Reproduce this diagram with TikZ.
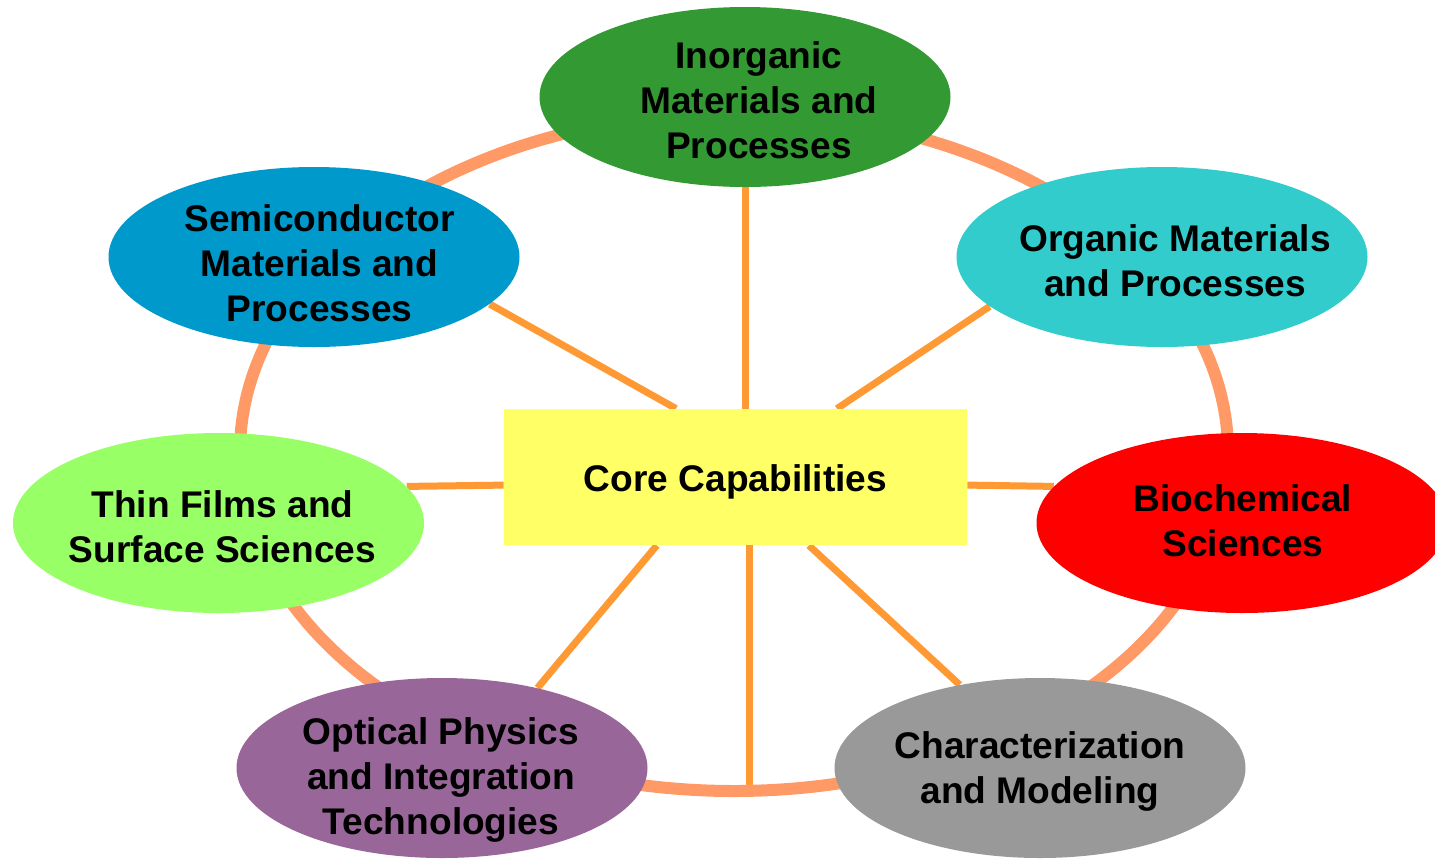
\documentclass[tikz,border=0pt]{standalone}
\usepackage{fontspec}
\setmainfont{Liberation Sans}
\usetikzlibrary{shapes.geometric,backgrounds}
\definecolor{ringorange}{HTML}{FF9966}
\definecolor{spokeorange}{HTML}{FF9933}
\definecolor{coreyellow}{HTML}{FFFF66}
\definecolor{inorggreen}{HTML}{339933}
\definecolor{semiblue}{HTML}{0099CC}
\definecolor{orgcyan}{HTML}{33CCCC}
\definecolor{thingreen}{HTML}{99FF66}
\definecolor{optpurple}{HTML}{996699}
\definecolor{chargray}{HTML}{999999}

\begin{document}
\begin{tikzpicture}[x=0.5pt,y=-0.5pt,
    area/.style={ellipse,inner sep=0pt,minimum width=205.5pt,minimum height=90pt},
    areatext/.style={align=center,inner sep=0pt,font=\fontsize{18.55}{22.5}\selectfont\bfseries},
    spoke/.style={draw=spokeorange,line width=3.5pt},
    ring/.style={draw=ringorange,line width=6pt}]

    % Page is 1435 x 858 px, one unit is one px.
    \useasboundingbox (0,0) rectangle (1435,858);

    % centre box
    \node[fill=coreyellow,minimum width=231.5pt,minimum height=68pt,inner sep=0pt,
        label={[areatext,yshift=-2.5pt]center:Core Capabilities}] (core) at (735.5,477) {};

    % the seven areas
    \node[area,fill=inorggreen,
        label={[areatext,xshift=7pt,yshift=-1.75pt]center:Inorganic\\Materials and\\Processes}] (inorg) at (745,97) {};
    \node[area,fill=semiblue,
        label={[areatext,xshift=2.75pt,yshift=-3pt]center:Semiconductor\\Materials and\\Processes}] (semi) at (314,257) {};
    \node[area,fill=orgcyan,
        label={[areatext,xshift=6.5pt,yshift=-1.75pt]center:Organic Materials\\and Processes}] (organic) at (1162,257) {};
    \node[area,fill=thingreen,
        label={[areatext,xshift=2pt,yshift=-1.75pt]center:Thin Films and\\Surface Sciences}] (thin) at (218.5,523) {};
    \node[area,fill=red,
        label={[areatext,xshift=0.5pt,yshift=1.25pt]center:Biochemical\\Sciences}] (bio) at (1242,523) {};
    \node[area,fill=optpurple,
        label={[areatext,xshift=-0.5pt,yshift=-6pt]center:Optical Physics\\and Integration\\Technologies}] (optical) at (442,768) {};
    \node[area,fill=chargray,
        label={[areatext,yshift=-1.75pt]center:Characterization\\and Modeling}] (charact) at (1040,768) {};

    \begin{pgfonlayer}{background}
        % spokes
        \draw[spoke] (core.north -| inorg.south) -- (inorg.south);
        \draw[spoke] (core.131) -- (semi.-15);
        \draw[spoke] (core.34) -- (organic.196);
        \draw[spoke] (core.182.5) -- (thin.11);
        \draw[spoke] (core.-2.5) -- (bio.169);
        \draw[spoke] (core.221) -- (optical.40);
        \draw[spoke] (core.-43) -- (charact.134);
        \coordinate (ringbot) at (749,788);
        \draw[spoke] (core.south -| ringbot) -- (ringbot);

        % outer ring
        \coordinate (hub) at (734,452);
        \draw[ring] (hub) ellipse [x radius=247pt, y radius=169.5pt];
    \end{pgfonlayer}

\end{tikzpicture}
\end{document}
